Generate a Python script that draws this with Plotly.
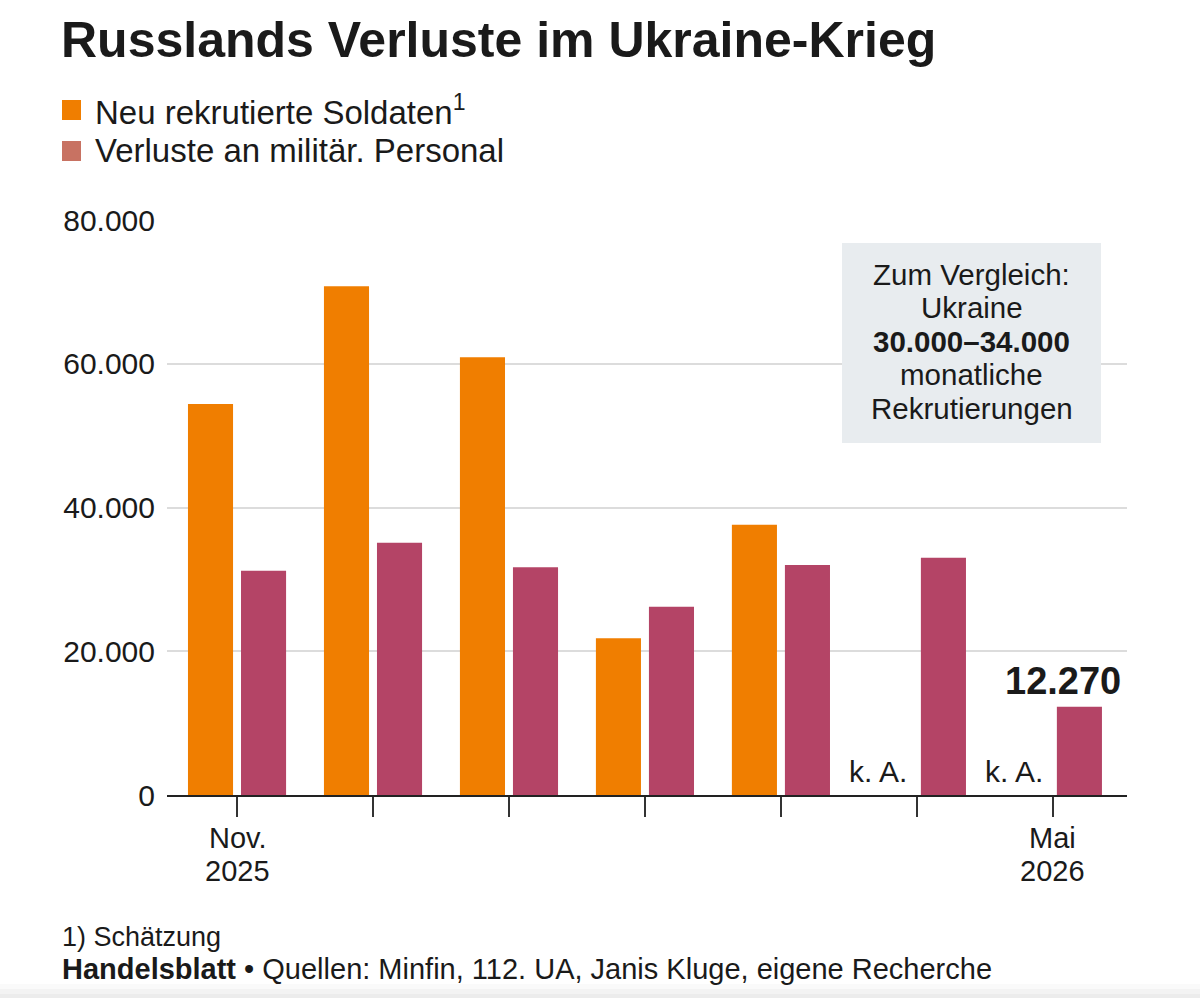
import plotly.graph_objects as go

months = ["Nov. 2025", "Dez. 2025", "Jan. 2026", "Feb. 2026", "Mär. 2026", "Apr. 2026", "Mai 2026"]
tick_labels = ["Nov.<br>2025", "", "", "", "", "", "Mai<br>2026"]
recruits = [54400, 70800, 60900, 21800, 37600, None, None]
losses = [31200, 35100, 31700, 26200, 32000, 33000, 12270]
y_ticks = [0, 20000, 40000, 60000, 80000]
y_tick_labels = ["0", "20.000", "40.000", "60.000", "80.000"]
box_lines = ["Zum Vergleich:", "Ukraine", "<b>30.000–34.000</b>", "monatliche", "Rekrutierungen"]

ORANGE = "#f07e00"
PINK = "#b44466"
LEGEND_PINK = "#c87262"
FONT = "Liberation Sans"
TXT = "#1a1a1a"

x = list(range(len(months)))

L, R, T, B = 167, 73, 220, 203
PW, PH = 1200 - L - R, 998 - T - B


def px(xp):
    return (xp - L) / PW


def py(yp):
    return (T + PH - yp) / PH


fig = go.Figure()
fig.add_trace(go.Bar(x=x, y=recruits, name="Neu rekrutierte Soldaten", marker_color=ORANGE,
                     marker_line_width=0))
fig.add_trace(go.Bar(x=x, y=losses, name="Verluste an militär. Personal", marker_color=PINK,
                     marker_line_width=0))

fig.update_layout(
    width=1200, height=998,
    margin=dict(l=L, r=R, t=T, b=B),
    paper_bgcolor="white", plot_bgcolor="white",
    barmode="group", bargap=0.22, bargroupgap=0.15,
    showlegend=False,
    font=dict(family=FONT, color=TXT, size=28),
)
fig.update_xaxes(
    range=[-0.515, 6.545], tickvals=x, showticklabels=False,
    ticks="outside", ticklen=20, tickwidth=2, tickcolor="#333",
    showline=True, linecolor="#222", linewidth=2,
    showgrid=False, zeroline=False,
)
fig.update_yaxes(
    range=[0, 80000], tickvals=y_ticks, ticktext=y_tick_labels,
    showgrid=True, gridcolor="#dcdcdc", gridwidth=2, zeroline=False,
    ticks="", ticklabelstandoff=11, tickfont=dict(size=30, color=TXT),
)

# x tick labels (two lines each, tighter spacing)
for i, lab in enumerate(tick_labels):
    if not lab:
        continue
    for j, part in enumerate(lab.split("<br>")):
        fig.add_annotation(x=i, xref="x", yref="paper", y=py(838 + 33 * j),
                           xanchor="center", yanchor="middle", showarrow=False,
                           text=part, font=dict(size=29, color=TXT))

# Title
fig.add_annotation(xref="paper", yref="paper", x=px(59), y=py(40),
                   xanchor="left", yanchor="middle", showarrow=False,
                   text="<b>Russlands Verluste im Ukraine-Krieg</b>",
                   font=dict(size=50, color=TXT, family=FONT))

# Manual legend
legend_items = [("Neu rekrutierte Soldaten<sup>1</sup>", ORANGE, 110),
                ("Verluste an militär. Personal", LEGEND_PINK, 151)]
for label, col, cy in legend_items:
    fig.add_shape(type="rect", xref="paper", yref="paper",
                  x0=px(62), x1=px(81), y0=py(cy + 10), y1=py(cy - 10),
                  fillcolor=col, line_width=0)
    fig.add_annotation(xref="paper", yref="paper", x=px(93), y=py(cy),
                       xanchor="left", yanchor="middle", showarrow=False,
                       text=label, font=dict(size=33, color=TXT))

# Comparison box
fig.add_shape(type="rect", xref="paper", yref="paper",
              x0=px(842), x1=px(1101), y0=py(443), y1=py(243),
              fillcolor="#e8ecef", line_width=0, layer="above")
for j, line in enumerate(box_lines):
    fig.add_annotation(xref="paper", yref="paper", x=px(971.5), y=py(274 + 33.5 * j),
                       xanchor="center", yanchor="middle", showarrow=False,
                       text=line, font=dict(size=29.5, color=TXT))

# k. A. labels for missing recruit data
for i, v in enumerate(recruits):
    if v is None:
        fig.add_annotation(x=i, y=0, xshift=-39, yshift=5, yanchor="bottom", xanchor="center",
                           showarrow=False, text="k. A.", font=dict(size=30, color=TXT))

# Highlight last value
fig.add_annotation(x=len(months) - 1, y=losses[-1], xanchor="right", yanchor="bottom",
                   xshift=70, yshift=3, showarrow=False,
                   text="<b>12.270</b>", font=dict(size=38, color=TXT))

# Footer
fig.add_annotation(xref="paper", yref="paper", x=px(60), y=py(937),
                   xanchor="left", yanchor="middle", showarrow=False,
                   text="1) Schätzung", font=dict(size=27, color=TXT))
fig.add_annotation(xref="paper", yref="paper", x=px(60), y=py(969),
                   xanchor="left", yanchor="middle", showarrow=False,
                   text="<b>Handelsblatt</b> • Quellen: Minfin, 112. UA, Janis Kluge, eigene Recherche",
                   font=dict(size=29, color=TXT))

# faint bottom shading
for y0, col in [(984, "#fafafa"), (989, "#f3f3f3"), (994, "#ececec")]:
    fig.add_shape(type="rect", xref="paper", yref="paper", x0=px(0), x1=px(1200),
                  y0=py(998), y1=py(y0), fillcolor=col, line_width=0, layer="below")

fig.write_html("out.html")
